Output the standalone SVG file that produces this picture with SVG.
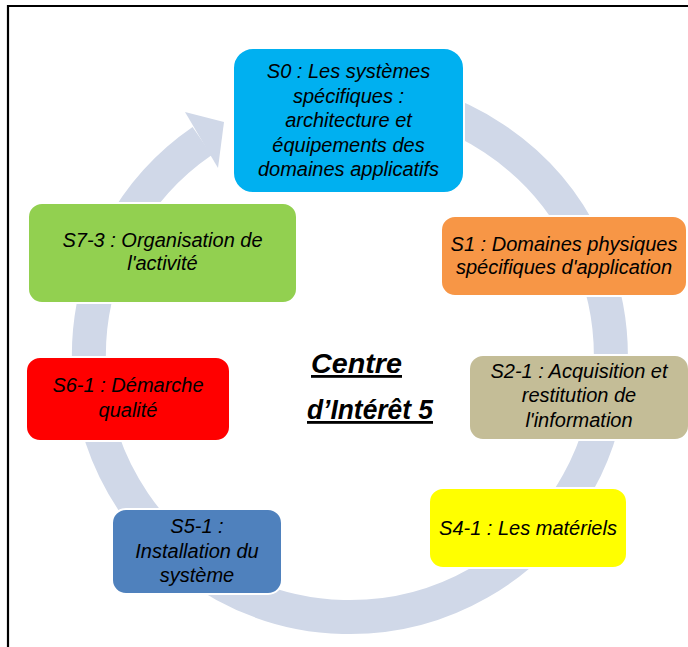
<svg xmlns="http://www.w3.org/2000/svg" width="688" height="647" viewBox="0 0 688 647">
<style>
.box{stroke:#fff;stroke-width:2}
.t{font-family:"Liberation Sans",Arial,sans-serif;font-style:italic;font-size:20px;fill:#000;text-anchor:middle}
.c{font-family:"Liberation Sans",Arial,sans-serif;font-style:italic;font-weight:bold;font-size:28px;fill:#000;text-decoration:underline}
</style>
<rect x="0" y="0" width="688" height="647" fill="#fff"/>
<path d="M8 647 V6 H688" fill="none" stroke="#000" stroke-width="2.2"/>
<g id="connectors">
<path d="M239.7 119.5 A261 261 0 1 1 202.2 140.9" fill="none" stroke="#D0D8E8" stroke-width="34"/>
<polygon points="185,112 224,122 218,168" fill="#D0D8E8"/>
</g>
<g id="S0">
<rect class="box" x="233" y="48" width="231" height="145" rx="20" fill="#00B0F0"/>
<text class="t" x="348.5" y="78">S0 : Les systèmes</text>
<text class="t" x="348.5" y="102.5">spécifiques :</text>
<text class="t" x="348.5" y="127">architecture et</text>
<text class="t" x="348.5" y="151.5">équipements des</text>
<text class="t" x="348.5" y="176">domaines applicatifs</text>
</g>
<g id="S1">
<rect class="box" x="441" y="216" width="246" height="80" rx="14" fill="#F79646"/>
<text class="t" x="564" y="251">S1 : Domaines physiques</text>
<text class="t" x="564" y="274">spécifiques d'application</text>
</g>
<g id="S2-1">
<rect class="box" x="469" y="355" width="220" height="85" rx="14" fill="#C4BD97"/>
<text class="t" x="579" y="378">S2-1 : Acquisition et</text>
<text class="t" x="579" y="402">restitution de</text>
<text class="t" x="579" y="427">l'information</text>
</g>
<g id="S4-1">
<rect class="box" x="429" y="488" width="198" height="80" rx="14" fill="#FFFF00"/>
<text class="t" x="528" y="535">S4-1 : Les matériels</text>
</g>
<g id="S5-1">
<rect class="box" x="112" y="509" width="170" height="85" rx="14" fill="#4F81BD"/>
<text class="t" x="197" y="533">S5-1 :</text>
<text class="t" x="197" y="558">Installation du</text>
<text class="t" x="197" y="582">système</text>
</g>
<g id="S6-1">
<rect class="box" x="26" y="357" width="204" height="84" rx="14" fill="#FF0000"/>
<text class="t" x="128" y="392">S6-1 : Démarche</text>
<text class="t" x="128" y="417">qualité</text>
</g>
<g id="S7-3">
<rect class="box" x="28" y="203" width="269" height="100" rx="14" fill="#92D050"/>
<text class="t" x="162.5" y="247">S7-3 : Organisation de</text>
<text class="t" x="162.5" y="270">l'activité</text>
</g>
<g id="center">
<text class="c" x="311" y="373" textLength="91" lengthAdjust="spacingAndGlyphs">Centre</text>
<text class="c" x="307" y="419" textLength="126" lengthAdjust="spacingAndGlyphs">d’Intérêt 5</text>
</g>
</svg>
